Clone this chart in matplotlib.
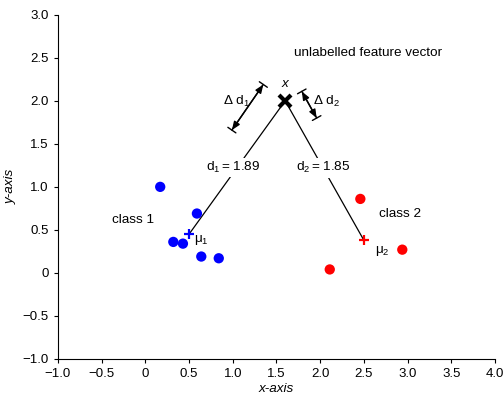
import matplotlib.pyplot as plt

plt.rcParams['font.family'] = ['Liberation Sans', 'DejaVu Sans']
plt.rcParams['mathtext.fontset'] = 'custom'
plt.rcParams['mathtext.rm'] = 'Liberation Sans'
plt.rcParams['mathtext.it'] = 'Liberation Sans:italic'

# class 1 (blue) and class 2 (red) samples
c1_x = [0.17, 0.59, 0.32, 0.43, 0.64, 0.84]
c1_y = [1.00, 0.69, 0.36, 0.34, 0.19, 0.17]
c2_x = [2.46, 2.94, 2.11]
c2_y = [0.86, 0.27, 0.04]
mu1 = (0.50, 0.45)
mu2 = (2.50, 0.38)
xvec = (1.60, 2.00)
d1, d2 = 1.89, 1.85
# delta-d arrows (start, end)
dd1 = [(1.35, 2.19), (0.99, 1.66)]
dd2 = [(1.79, 2.11), (1.96, 1.80)]

fig = plt.figure(figsize=(5.04, 4.01), dpi=100)
ax = fig.add_axes([0.115, 0.105, 0.867, 0.858])

# distance lines
ax.plot([mu1[0], xvec[0]], [mu1[1], xvec[1]], color='black', lw=0.9, zorder=1)
ax.plot([mu2[0], xvec[0]], [mu2[1], xvec[1]], color='black', lw=0.9, zorder=1)

ax.scatter(c1_x, c1_y, s=55, color='#0000ff', zorder=3, edgecolors='none')
ax.scatter(c2_x, c2_y, s=55, color='#ff0000', zorder=3, edgecolors='none')
ax.plot(*mu1, marker='+', color='#0000ff', ms=7, mew=1.6, zorder=4)
ax.plot(*mu2, marker='+', color='#ff0000', ms=7, mew=1.6, zorder=4)
ax.plot(*xvec, marker='x', color='black', ms=9, mew=3, zorder=4)

fs = 9.7
wb = dict(facecolor='white', edgecolor='none', pad=1.5)
ax.text(1.0, 1.23, f'd$_1$\u2009=\u2009{d1}', ha='center', va='center', fontsize=fs, bbox=wb, zorder=2)
ax.text(2.04, 1.22, f'd$_2$\u2009=\u2009{d2}', ha='center', va='center', fontsize=fs, bbox=wb, zorder=2)
ax.text(1.60, 2.20, 'x', style='italic', ha='center', va='center', fontsize=fs)
ax.text(2.55, 2.56, 'unlabelled feature vector', ha='center', va='center', fontsize=fs)
ax.text(-0.14, 0.62, 'class 1', ha='center', va='center', fontsize=fs)
ax.text(2.91, 0.68, 'class 2', ha='center', va='center', fontsize=fs)
ax.text(0.64, 0.38, '\u03bc$_1$', ha='center', va='center', fontsize=fs)
ax.text(2.71, 0.26, '\u03bc$_2$', ha='center', va='center', fontsize=fs)
ax.text(1.04, 1.99, '\u0394 d$_1$', ha='center', va='center', fontsize=fs)
ax.text(2.07, 1.99, '\u0394 d$_2$', ha='center', va='center', fontsize=fs)

for (a, b) in (dd1, dd2):
    ax.annotate('', xy=b, xytext=a,
                arrowprops=dict(arrowstyle='<|-|>, head_length=0.5, head_width=0.2',
                                color='black', lw=1.0, shrinkA=0, shrinkB=0, mutation_scale=10))
    ax.annotate('', xy=b, xytext=a,
                arrowprops=dict(arrowstyle='|-|, widthA=0.35, widthB=0.35', color='black',
                                lw=1.0, shrinkA=0, shrinkB=0))

ax.set_xlim(-1, 4)
ax.set_ylim(-1, 3)
ax.set_xticks([-1, -0.5, 0, 0.5, 1, 1.5, 2, 2.5, 3, 3.5, 4])
ax.set_xticklabels(['\u22121.0', '\u22120.5', '0', '0.5', '1.0', '1.5', '2.0', '2.5', '3.0', '3.5', '4.0'])
ax.set_yticks([-1, -0.5, 0, 0.5, 1, 1.5, 2, 2.5, 3])
ax.set_yticklabels(['\u22121.0', '\u22120.5', '0', '0.5', '1.0', '1.5', '2.0', '2.5', '3.0'])
ax.tick_params(labelsize=9.5, length=3, width=0.8)
for s in ('top', 'right'):
    ax.spines[s].set_visible(False)
ax.set_xlabel('x-axis', style='italic', fontsize=fs, labelpad=2)
ax.set_ylabel('y-axis', style='italic', fontsize=fs, labelpad=4)

fig.savefig('out.png', dpi=100)
